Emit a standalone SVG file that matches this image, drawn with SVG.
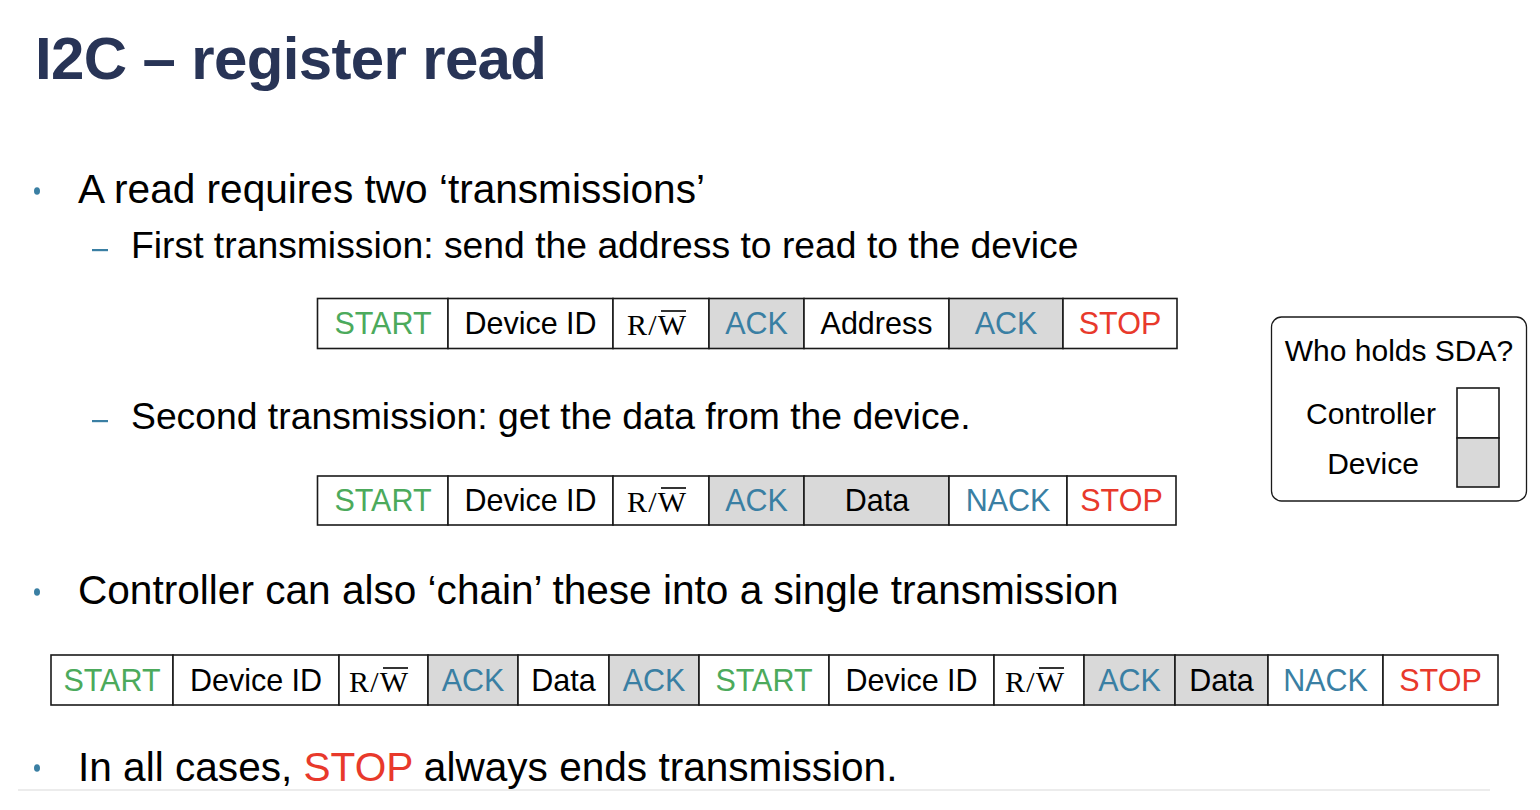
<svg xmlns="http://www.w3.org/2000/svg" width="1540" height="810" viewBox="0 0 1540 810">
  <style>
    .title { font-family: "Liberation Sans", Arial, sans-serif; font-weight: bold; font-size: 60px; fill: #283456; }
    .l1 { font-family: "Liberation Sans", Arial, sans-serif; font-size: 40.6px; fill: #000; }
    .l2 { font-family: "Liberation Sans", Arial, sans-serif; font-size: 37.3px; fill: #000; }
    .cell { fill: #fff; stroke: #1a1a1a; stroke-width: 1.6; }
    .dev { fill: #d9d9d9; stroke: #1a1a1a; stroke-width: 1.6; }
    .lbl { font-family: "Liberation Sans", Arial, sans-serif; font-size: 30.5px; text-anchor: middle; fill: #000; }
    .rw { font-family: "Liberation Serif", "Times New Roman", serif; font-size: 30px; fill: #000; }
    .ovl { stroke: #000; stroke-width: 1.6; }
    .start { fill: #4caa5c; }
    .ack { fill: #3a7fa3; }
    .stop { fill: #e8392b; }
    .bullet { fill: #3a7fa3; }
    .leg { font-family: "Liberation Sans", Arial, sans-serif; font-size: 30px; fill: #000; }
  </style>

  <!-- heading -->
  <text class="title" x="35" y="79" textLength="512" lengthAdjust="spacing">I2C – register read</text>

  <!-- bullet list -->
  <g id="bullets">
    <ellipse class="bullet" cx="37" cy="191" rx="3" ry="3.8"/>
    <text class="l1" x="78" y="203">A read requires two ‘transmissions’</text>
    <rect class="bullet" x="92" y="249" width="16" height="2.2"/>
    <text class="l2" x="131" y="258">First transmission: send the address to read to the device</text>
    <rect class="bullet" x="92" y="420" width="16" height="2.2"/>
    <text class="l2" x="131" y="429">Second transmission: get the data from the device.</text>
    <ellipse class="bullet" cx="37" cy="592" rx="3" ry="3.8"/>
    <text class="l1" x="78" y="604">Controller can also ‘chain’ these into a single transmission</text>
    <ellipse class="bullet" cx="37" cy="768" rx="3" ry="3.8"/>
    <text class="l1" x="78" y="781">In all cases, <tspan class="stop">STOP</tspan> always ends transmission.</text>
  </g>

  <!-- first transmission: write register address -->
  <g id="frame-write">
    <rect class="cell" x="317.5" y="298.5" width="130.5" height="50"/>
    <text class="lbl start" x="383" y="334">START</text>
    <rect class="cell" x="448" y="298.5" width="165" height="50"/>
    <text class="lbl" x="530.5" y="334">Device ID</text>
    <rect class="cell" x="613" y="298.5" width="96" height="50"/>
    <text class="rw" x="627" y="335" textLength="59" lengthAdjust="spacing">R/W</text>
    <line class="ovl" x1="661" y1="311" x2="686" y2="311"/>
    <rect class="dev" x="709" y="298.5" width="95" height="50"/>
    <text class="lbl ack" x="756.5" y="334">ACK</text>
    <rect class="cell" x="804" y="298.5" width="145" height="50"/>
    <text class="lbl" x="876.5" y="334">Address</text>
    <rect class="dev" x="949" y="298.5" width="114" height="50"/>
    <text class="lbl ack" x="1006" y="334">ACK</text>
    <rect class="cell" x="1063" y="298.5" width="114" height="50"/>
    <text class="lbl stop" x="1120" y="334">STOP</text>
  </g>

  <!-- second transmission: read data -->
  <g id="frame-read">
    <rect class="cell" x="317.5" y="476" width="130.5" height="49"/>
    <text class="lbl start" x="383" y="511">START</text>
    <rect class="cell" x="448" y="476" width="165" height="49"/>
    <text class="lbl" x="530.5" y="511">Device ID</text>
    <rect class="cell" x="613" y="476" width="96" height="49"/>
    <text class="rw" x="627" y="512" textLength="59" lengthAdjust="spacing">R/W</text>
    <line class="ovl" x1="661" y1="488" x2="686" y2="488"/>
    <rect class="dev" x="709" y="476" width="95" height="49"/>
    <text class="lbl ack" x="756.5" y="511">ACK</text>
    <rect class="dev" x="804" y="476" width="145" height="49"/>
    <text class="lbl" x="877" y="511">Data</text>
    <rect class="cell" x="949" y="476" width="118" height="49"/>
    <text class="lbl ack" x="1008" y="511">NACK</text>
    <rect class="cell" x="1067" y="476" width="109" height="49"/>
    <text class="lbl stop" x="1121.5" y="511">STOP</text>
  </g>

  <!-- chained transmission -->
  <g id="frame-chained">
    <rect class="cell" x="51" y="655" width="122" height="50"/>
    <text class="lbl start" x="112" y="691">START</text>
    <rect class="cell" x="173" y="655" width="166" height="50"/>
    <text class="lbl" x="256" y="691">Device ID</text>
    <rect class="cell" x="339" y="655" width="89" height="50"/>
    <text class="rw" x="349" y="692" textLength="59" lengthAdjust="spacing">R/W</text>
    <line class="ovl" x1="383" y1="668" x2="408" y2="668"/>
    <rect class="dev" x="428" y="655" width="90" height="50"/>
    <text class="lbl ack" x="473" y="691">ACK</text>
    <rect class="cell" x="518" y="655" width="91" height="50"/>
    <text class="lbl" x="563.5" y="691">Data</text>
    <rect class="dev" x="609" y="655" width="90" height="50"/>
    <text class="lbl ack" x="654" y="691">ACK</text>
    <rect class="cell" x="699" y="655" width="130" height="50"/>
    <text class="lbl start" x="764" y="691">START</text>
    <rect class="cell" x="829" y="655" width="165" height="50"/>
    <text class="lbl" x="911.5" y="691">Device ID</text>
    <rect class="cell" x="994" y="655" width="90" height="50"/>
    <text class="rw" x="1005" y="692" textLength="59" lengthAdjust="spacing">R/W</text>
    <line class="ovl" x1="1039" y1="668" x2="1064" y2="668"/>
    <rect class="dev" x="1084" y="655" width="91" height="50"/>
    <text class="lbl ack" x="1129.5" y="691">ACK</text>
    <rect class="dev" x="1175" y="655" width="93" height="50"/>
    <text class="lbl" x="1221.5" y="691">Data</text>
    <rect class="cell" x="1268" y="655" width="115" height="50"/>
    <text class="lbl ack" x="1325.5" y="691">NACK</text>
    <rect class="cell" x="1383" y="655" width="115" height="50"/>
    <text class="lbl stop" x="1440.5" y="691">STOP</text>
  </g>

  <!-- legend: who drives SDA -->
  <g id="legend">
    <rect x="1271.5" y="317" width="255" height="184" rx="10" fill="#fff" stroke="#1a1a1a" stroke-width="1.3"/>
    <text class="leg" x="1399" y="361" text-anchor="middle">Who holds SDA?</text>
    <text class="leg" x="1371" y="424" text-anchor="middle">Controller</text>
    <text class="leg" x="1373" y="474" text-anchor="middle">Device</text>
    <rect class="cell" x="1457" y="388" width="42" height="50"/>
    <rect class="dev" x="1457" y="438" width="42" height="49"/>
  </g>

  <!-- footer rule -->
  <line x1="18" y1="790" x2="1490" y2="790" stroke="#ececec" stroke-width="2"/>
</svg>
